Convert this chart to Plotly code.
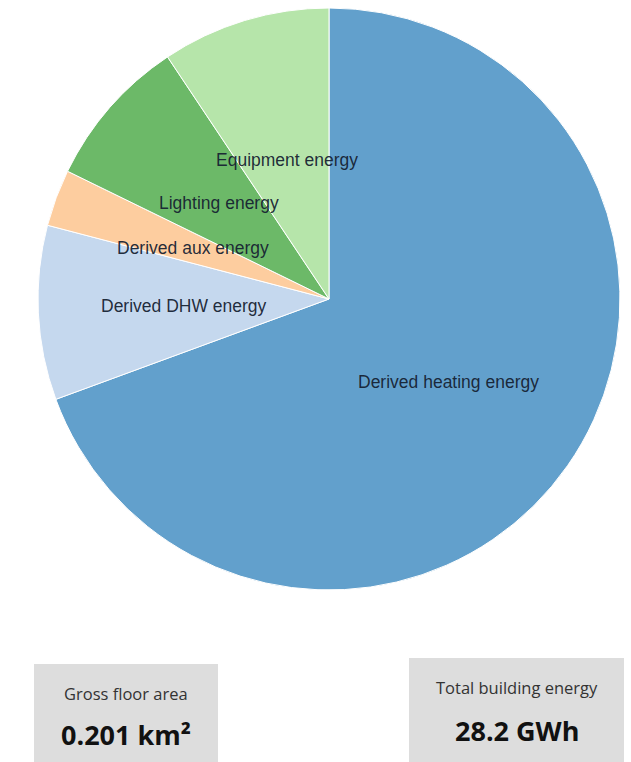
import math
import plotly.graph_objects as go

# Data (GWh)
categories = ["Derived heating energy", "Derived DHW energy", "Derived aux energy",
              "Lighting energy", "Equipment energy"]
values = [19.57, 2.73, 0.89, 2.37, 2.64]
colors = ["#62a0cc", "#c5d8ee", "#fdcd9f", "#6cb968", "#b6e5aa"]

floor_area_label = "Gross floor area"
floor_area_value = "0.201 km²"
total_label = "Total building energy"
total_value = "28.2 GWh"

W, H = 631, 762
dom_x = [37 / W, 621 / W]
dom_y = [1 - 590 / H, 1 - 8 / H]

fig = go.Figure(go.Pie(
    labels=categories, values=values, sort=False, direction="clockwise", rotation=0,
    marker=dict(colors=colors, line=dict(color="white", width=1)),
    textinfo="none", hoverinfo="label+value", showlegend=False,
    domain=dict(x=dom_x, y=dom_y),
))

# label positions at half radius along each slice's mid-angle
cx_px = (dom_x[0] + dom_x[1]) / 2 * W
cy_px = (1 - (dom_y[0] + dom_y[1]) / 2) * H
R = min((dom_x[1] - dom_x[0]) * W, (dom_y[1] - dom_y[0]) * H) / 2
total = sum(values)
cum = 0.0
annotations = []
for lab, v in zip(categories, values):
    mid = (cum + v / 2) / total * 2 * math.pi
    cum += v
    px = cx_px + 0.5 * R * math.sin(mid)
    py = cy_px - 0.5 * R * math.cos(mid)
    annotations.append(dict(x=px / W, y=1 - py / H, xref="paper", yref="paper",
                            xanchor="center", yanchor="middle",
                            text=lab, showarrow=False,
                            font=dict(family="Liberation Sans, Arial", size=17.5,
                                      color="rgba(22,34,50,0.95)")))

# info boxes
boxes = [
    (34, 218, 664, 29, 70, floor_area_label, floor_area_value),
    (409, 624, 658, 29, 72, total_label, total_value),
]
shapes = []
for x0, x1, top, dl, dv, lab, val in boxes:
    shapes.append(dict(type="rect", xref="paper", yref="paper",
                       x0=x0 / W, x1=x1 / W, y0=0, y1=1 - top / H,
                       fillcolor="#dddddd", line=dict(width=0), layer="below"))
    xc = (x0 + x1) / 2 / W
    annotations.append(dict(x=xc, y=1 - (top + dl) / H, xref="paper", yref="paper",
                            xanchor="center", yanchor="middle",
                            text=lab, showarrow=False,
                            font=dict(family="Open Sans, Noto Sans", size=16.5, color="#333333")))
    annotations.append(dict(x=xc, y=1 - (top + dv) / H, xref="paper", yref="paper",
                            xanchor="center", yanchor="middle",
                            text="<b>" + val + "</b>", showarrow=False,
                            font=dict(family="Open Sans, Noto Sans", size=27, color="#111111")))

fig.update_layout(
    width=W, height=H, margin=dict(l=0, r=0, t=0, b=0),
    paper_bgcolor="white", plot_bgcolor="white",
    annotations=annotations, shapes=shapes,
)

fig.write_html("out.html", config={"displayModeBar": False},
               post_script="document.body.style.margin='0';")
